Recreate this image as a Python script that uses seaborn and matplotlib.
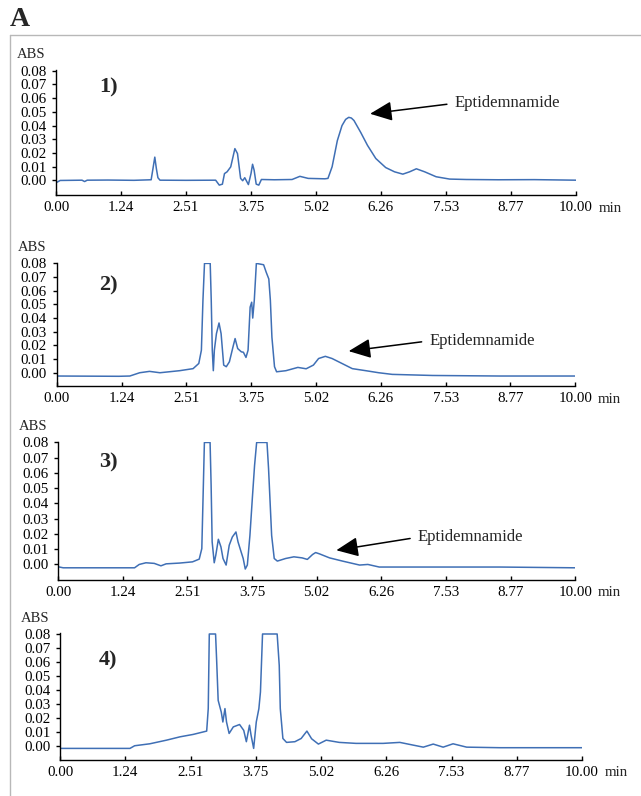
import matplotlib
matplotlib.use("Agg")  # no display
import matplotlib.pyplot as plt
from matplotlib.lines import Line2D
import seaborn as sns

# chromatogram traces (time in min, absorbance)
time_1 = [0.00, 0.08, 0.50, 0.55, 0.60, 1.00, 1.50, 1.83, 1.86, 1.90, 1.93, 1.96, 2.00, 2.50,
          3.07, 3.14, 3.20, 3.24, 3.29, 3.36, 3.44, 3.49, 3.55, 3.59, 3.63, 3.70, 3.75, 3.78,
          3.81, 3.85, 3.90, 3.95, 4.20, 4.54, 4.69, 4.85, 5.17, 5.23, 5.31, 5.41, 5.50, 5.57,
          5.63, 5.68, 5.73, 5.86, 5.99, 6.15, 6.34, 6.51, 6.67, 6.80, 6.93, 7.09, 7.31, 7.57,
          7.89, 8.50, 9.20, 10.00]
abs_1 = [-0.0017, 0.0000, 0.0002, -0.0008, 0.0002, 0.0003, 0.0001, 0.0005, 0.0075, 0.0170,
         0.0087, 0.0020, 0.0002, 0.0001, 0.0002, -0.0034, -0.0027, 0.0050, 0.0063, 0.0099,
         0.0232, 0.0196, 0.0015, -0.0002, 0.0020, -0.0030, 0.0050, 0.0118, 0.0075, -0.0027,
         -0.0034, 0.0007, 0.0005, 0.0007, 0.0030, 0.0015, 0.0012, 0.0015, 0.0100, 0.0290,
         0.0400, 0.0445, 0.0460, 0.0455, 0.0437, 0.0350, 0.0256, 0.0160, 0.0094, 0.0063,
         0.0046, 0.0063, 0.0085, 0.0063, 0.0027, 0.0010, 0.0007, 0.0005, 0.0006, 0.0002]

time_2 = [0.00, 0.60, 1.20, 1.41, 1.60, 1.79, 1.99, 2.37, 2.63, 2.74, 2.79, 2.82, 2.85, 2.96,
          2.98, 3.00, 3.02, 3.04, 3.08, 3.13, 3.17, 3.22, 3.27, 3.33, 3.40, 3.44, 3.49, 3.56,
          3.60, 3.65, 3.69, 3.73, 3.76, 3.78, 3.81, 3.85, 3.92, 3.99, 4.04, 4.09, 4.12, 4.15,
          4.20, 4.24, 4.42, 4.65, 4.81, 4.95, 5.05, 5.18, 5.31, 5.50, 5.70, 5.96, 6.21, 6.47,
          7.25, 8.54, 10.00]
abs_2 = [-0.0024, -0.0025, -0.0026, -0.0024, 0.0000, 0.0010, 0.0000, 0.0015, 0.0030, 0.0068,
         0.0165, 0.0530, 0.0800, 0.0800, 0.0530, 0.0165, 0.0015, 0.0165, 0.0286, 0.0364,
         0.0286, 0.0056, 0.0044, 0.0080, 0.0190, 0.0250, 0.0177, 0.0153, 0.0150, 0.0112,
         0.0165, 0.0480, 0.0516, 0.0400, 0.0530, 0.0800, 0.0795, 0.0790, 0.0735, 0.0686,
         0.0530, 0.0260, 0.0044, 0.0007, 0.0015, 0.0039, 0.0029, 0.0056, 0.0104, 0.0120,
         0.0104, 0.0068, 0.0030, 0.0015, 0.0000, -0.0012, -0.0020, -0.0024, -0.0024]

time_3 = [0.00, 0.10, 1.00, 1.48, 1.57, 1.70, 1.86, 1.99, 2.09, 2.35, 2.60, 2.73, 2.78, 2.81,
          2.83, 2.94, 2.96, 2.98, 3.02, 3.05, 3.10, 3.15, 3.19, 3.25, 3.31, 3.37, 3.44, 3.48,
          3.53, 3.58, 3.62, 3.66, 3.71, 3.76, 3.80, 3.84, 4.04, 4.07, 4.10, 4.13, 4.18, 4.24,
          4.40, 4.56, 4.72, 4.82, 4.92, 4.98, 5.05, 5.25, 5.50, 5.83, 5.99, 6.21, 7.25, 8.54,
          10.00]
abs_3 = [-0.0015, -0.0022, -0.0022, -0.0022, 0.0000, 0.0011, 0.0007, -0.0009, 0.0004, 0.0009,
         0.0017, 0.0035, 0.0104, 0.0520, 0.0800, 0.0800, 0.0520, 0.0148, 0.0011, 0.0060,
         0.0165, 0.0115, 0.0039, -0.0004, 0.0126, 0.0180, 0.0213, 0.0148, 0.0093, 0.0039,
         -0.0030, -0.0004, 0.0190, 0.0450, 0.0650, 0.0800, 0.0800, 0.0630, 0.0410, 0.0190,
         0.0039, 0.0022, 0.0039, 0.0050, 0.0043, 0.0033, 0.0065, 0.0078, 0.0070, 0.0043,
         0.0022, -0.0004, 0.0000, -0.0017, -0.0017, -0.0017, -0.0022]

time_4 = [0.00, 0.80, 1.34, 1.43, 1.72, 2.04, 2.30, 2.55, 2.81, 2.84, 2.86, 2.98, 3.00, 3.03,
          3.09, 3.12, 3.16, 3.19, 3.24, 3.32, 3.44, 3.52, 3.57, 3.63, 3.66, 3.71, 3.76, 3.81,
          3.84, 3.88, 4.16, 4.20, 4.22, 4.27, 4.34, 4.50, 4.62, 4.73, 4.82, 4.95, 5.10, 5.35,
          5.67, 6.19, 6.51, 6.76, 6.96, 7.15, 7.34, 7.53, 7.79, 8.43, 10.00]
abs_4 = [-0.0019, -0.0019, -0.0019, 0.0000, 0.0014, 0.0040, 0.0064, 0.0081, 0.0105, 0.0266,
         0.0800, 0.0800, 0.0620, 0.0325, 0.0240, 0.0170, 0.0266, 0.0170, 0.0088, 0.0135,
         0.0152, 0.0110, 0.0029, 0.0147, 0.0076, -0.0019, 0.0170, 0.0266, 0.0385, 0.0800,
         0.0800, 0.0575, 0.0266, 0.0052, 0.0024, 0.0029, 0.0052, 0.0105, 0.0050, 0.0012,
         0.0040, 0.0024, 0.0017, 0.0017, 0.0024, 0.0005, -0.0010, 0.0012, -0.0010, 0.0014,
         -0.0010, -0.0014, -0.0014]

times = [time_1, time_2, time_3, time_4]
traces = [abs_1, abs_2, abs_3, abs_4]

x_ticks = [0.0, 1.25, 2.5, 3.75, 5.0, 6.25, 7.5, 8.75, 10.0]
x_tick_labels = ["0.00", "1.24", "2.51", "3.75", "5.02", "6.26", "7.53", "8.77", "10.00"]
y_ticks = [0.00, 0.01, 0.02, 0.03, 0.04, 0.05, 0.06, 0.07, 0.08]
panel_labels = ["1)", "2)", "3)", "4)"]
peak_name = "Eptidemnamide"
# arrow tip and text anchor for the peak callout (none in panel 4)
peak_tip = [(6.04, 0.0486), (5.63, 0.0158), (5.38, 0.0093), None]
peak_text = [(7.66, 0.0562), (7.18, 0.0233), (6.95, 0.0178), None]

W, H = 641, 796
# pixel boxes of each axes: left, right, top (0.08), bottom (x axis)
boxes = [(56, 576, 70, 195), (56.7, 575.3, 262.7, 386),
         (58, 575.3, 441.7, 580), (60, 582, 633.3, 760)]
y_bottoms = [-0.0106, -0.0097, -0.0102, -0.0102]
label_y = [87, 285, 462, 660]

sns.set_style("ticks")
plt.rcParams["font.family"] = ["Liberation Serif", "DejaVu Serif"]
line_color = "#3f6fb5"

fig = plt.figure(figsize=(W / 100, H / 100), dpi=100)

for i in range(4):
    l, r, t, b = boxes[i]
    ax = fig.add_axes([l / W, 1 - b / H, (r - l) / W, (b - t) / H])
    sns.lineplot(x=times[i], y=traces[i], ax=ax, color=line_color, linewidth=1.1,
                 estimator=None, sort=False)
    ax.set_xlim(0, 10)
    ax.set_ylim(y_bottoms[i], 0.0805)
    ax.set_xticks(x_ticks)
    ax.set_xticklabels(x_tick_labels)
    ax.set_yticks(y_ticks)
    ax.set_yticklabels([f"{v:.2f}" for v in y_ticks])
    ax.tick_params(axis="x", direction="in", length=3, width=1, pad=4,
                   labelsize=10.8, colors="black")
    ax.tick_params(axis="y", direction="out", length=3, width=1, pad=4,
                   labelsize=10.8, colors="black")
    sns.despine(ax=ax)
    for side in ["left", "bottom"]:
        ax.spines[side].set_color("black")
        ax.spines[side].set_linewidth(1)
    ax.set_xlabel("")
    ax.set_ylabel("")

    ax.annotate("ABS", xy=(0, 1), xycoords="axes fraction", xytext=(-25, 15),
                textcoords="offset pixels", ha="center", va="center", fontsize=10.5)
    ax.annotate("min", xy=(1, 0), xycoords="axes fraction", xytext=(34, -13),
                textcoords="offset pixels", ha="center", va="center", fontsize=10.8)
    fig.text(99 / W, 1 - label_y[i] / H, panel_labels[i], fontsize=16,
             fontweight="bold", ha="left", va="center")

    if peak_tip[i] is not None:
        ax.annotate(peak_name, xy=peak_tip[i], xytext=peak_text[i],
                    ha="left", va="center", fontsize=12,
                    arrowprops=dict(arrowstyle="-|>,head_length=0.9,head_width=0.4",
                                    color="black", lw=1.1, mutation_scale=15,
                                    relpos=(0, 0.5), shrinkA=3, shrinkB=0))

# panel letter and the grey frame around the figure
fig.text(10 / W, 1 - 19 / H, "A", fontsize=20, fontweight="bold", ha="left", va="center")
fig.add_artist(Line2D([10 / W, 1], [1 - 35 / H, 1 - 35 / H], color="#b8b8b8", lw=1))
fig.add_artist(Line2D([10 / W, 10 / W], [0, 1 - 35 / H], color="#b8b8b8", lw=1))

fig.savefig("out.png", dpi=100)
plt.close(fig)
